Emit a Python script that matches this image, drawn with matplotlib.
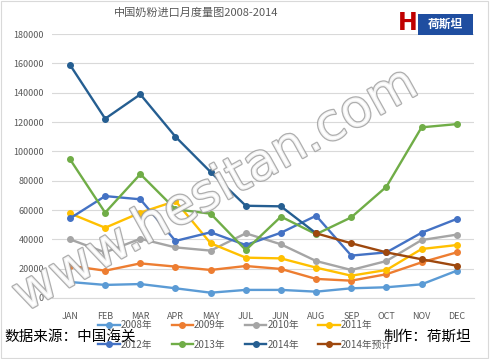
import matplotlib
matplotlib.use("Agg")
import matplotlib.pyplot as plt
import matplotlib.patheffects as pe
from matplotlib.patches import Rectangle

plt.rcParams['font.family'] = ['Noto Sans CJK SC', 'DejaVu Sans']

months = ["JAN", "FEB", "MAR", "APR", "MAY", "JUL", "JUN", "AUG", "SEP", "OCT", "NOV", "DEC"]

y2008 = [10900, 8900, 9500, 6600, 3600, 5500, 5500, 4300, 6600, 7300, 9300, 18600]
y2009 = [22000, 18600, 23600, 21400, 19100, 21800, 19800, 13000, 11800, 16200, 24300, 31100]
y2010 = [40000, 31100, 40400, 34500, 32300, 44100, 36600, 25200, 19100, 25200, 39500, 43200]
y2011 = [57700, 47900, 58200, 66100, 37300, 27500, 27000, 20700, 15200, 19100, 33400, 36100]
y2012 = [54300, 69500, 67300, 38900, 44800, 36100, 44500, 56100, 28900, 31100, 44500, 53900]
y2013 = [94600, 58200, 84500, 60500, 57500, 32700, 55500, 43500, 55000, 75900, 116400, 118600]
y2014 = [159000, 122300, 138900, 110000, 85900, 62900, 62500, 44100]
y2014_forecast = [44100, 37300, 31100, 26400, 22000]

series = [
    ("2008年", y2008, "#5B9BD5", 0),
    ("2009年", y2009, "#ED7D31", 0),
    ("2010年", y2010, "#A5A5A5", 0),
    ("2011年", y2011, "#FFC000", 0),
    ("2012年", y2012, "#4472C4", 0),
    ("2013年", y2013, "#70AD47", 0),
    ("2014年", y2014, "#255E91", 0),
    ("2014年预计", y2014_forecast, "#9E480E", 7),
]

fig = plt.figure(figsize=(4.9, 3.59), dpi=100)
ax = fig.add_axes([0.107, 0.170, 0.861, 0.735])

handles = []
for label, vals, color, start in series:
    xs = list(range(start, start + len(vals)))
    h, = ax.plot(xs, vals, color=color, lw=1.7, marker="o", ms=4, label=label, zorder=3)
    handles.append(h)

ax.set_xlim(-0.5, 11.5)
ax.set_ylim(0, 180000)
ax.set_yticks(range(0, 180001, 20000))
ax.set_xticks(range(12))
ax.set_xticklabels(months)
ax.tick_params(axis="both", length=0, labelsize=6.5, labelcolor="#595959")
ax.tick_params(axis="x", pad=10)
ax.tick_params(axis="y", pad=6)
ax.grid(axis="y", color="#D9D9D9", lw=0.8)
ax.set_axisbelow(True)
for s in ["top", "right", "left"]:
    ax.spines[s].set_visible(False)
ax.spines["bottom"].set_color("#D9D9D9")

# watermark
fig.text(0.44, 0.47, "www.hesitan.com", rotation=29, fontsize=37, color="white",
         ha="center", va="center", family=["DejaVu Sans"], alpha=0.85,
         path_effects=[pe.withStroke(linewidth=1.8, foreground="#A0A0A0")], zorder=5)

fig.text(0.40, 0.965, "中国奶粉进口月度量图2008-2014", ha="center", va="center",
         fontsize=8, color="#595959")

# logo
fig.patches.append(Rectangle((0.853, 0.903), 0.112, 0.058, transform=fig.transFigure,
                             facecolor="#1F4EA0", edgecolor="none"))
fig.text(0.833, 0.935, "H", fontsize=17, color="#C00000", fontweight="bold",
         ha="center", va="center", family=["DejaVu Sans"])
fig.text(0.909, 0.932, "荷斯坦", fontsize=8.5, color="white", ha="center", va="center",
         fontweight="bold")

# legend rows: 2008-2011 on top, 2012-2014预计 below
order = [0, 4, 1, 5, 2, 6, 3, 7]
fig.legend([handles[i] for i in order], [series[i][0] for i in order],
           loc="center", bbox_to_anchor=(0.50, 0.067), ncol=4, fontsize=7,
           frameon=False, handlelength=2.2, columnspacing=2.0, labelspacing=1.0,
           handletextpad=0.1, labelcolor="#595959")

fig.text(0.01, 0.061, "数据来源：中国海关", fontsize=10.5, color="black", va="center")
fig.text(0.782, 0.061, "制作：荷斯坦", fontsize=10.5, color="black", va="center", ha="left")

fig.patches.append(Rectangle((0.002, 0.003), 0.994, 0.994, transform=fig.transFigure,
                             facecolor="none", edgecolor="#D9D9D9", lw=0.8))

fig.savefig("out.png", dpi=100)
